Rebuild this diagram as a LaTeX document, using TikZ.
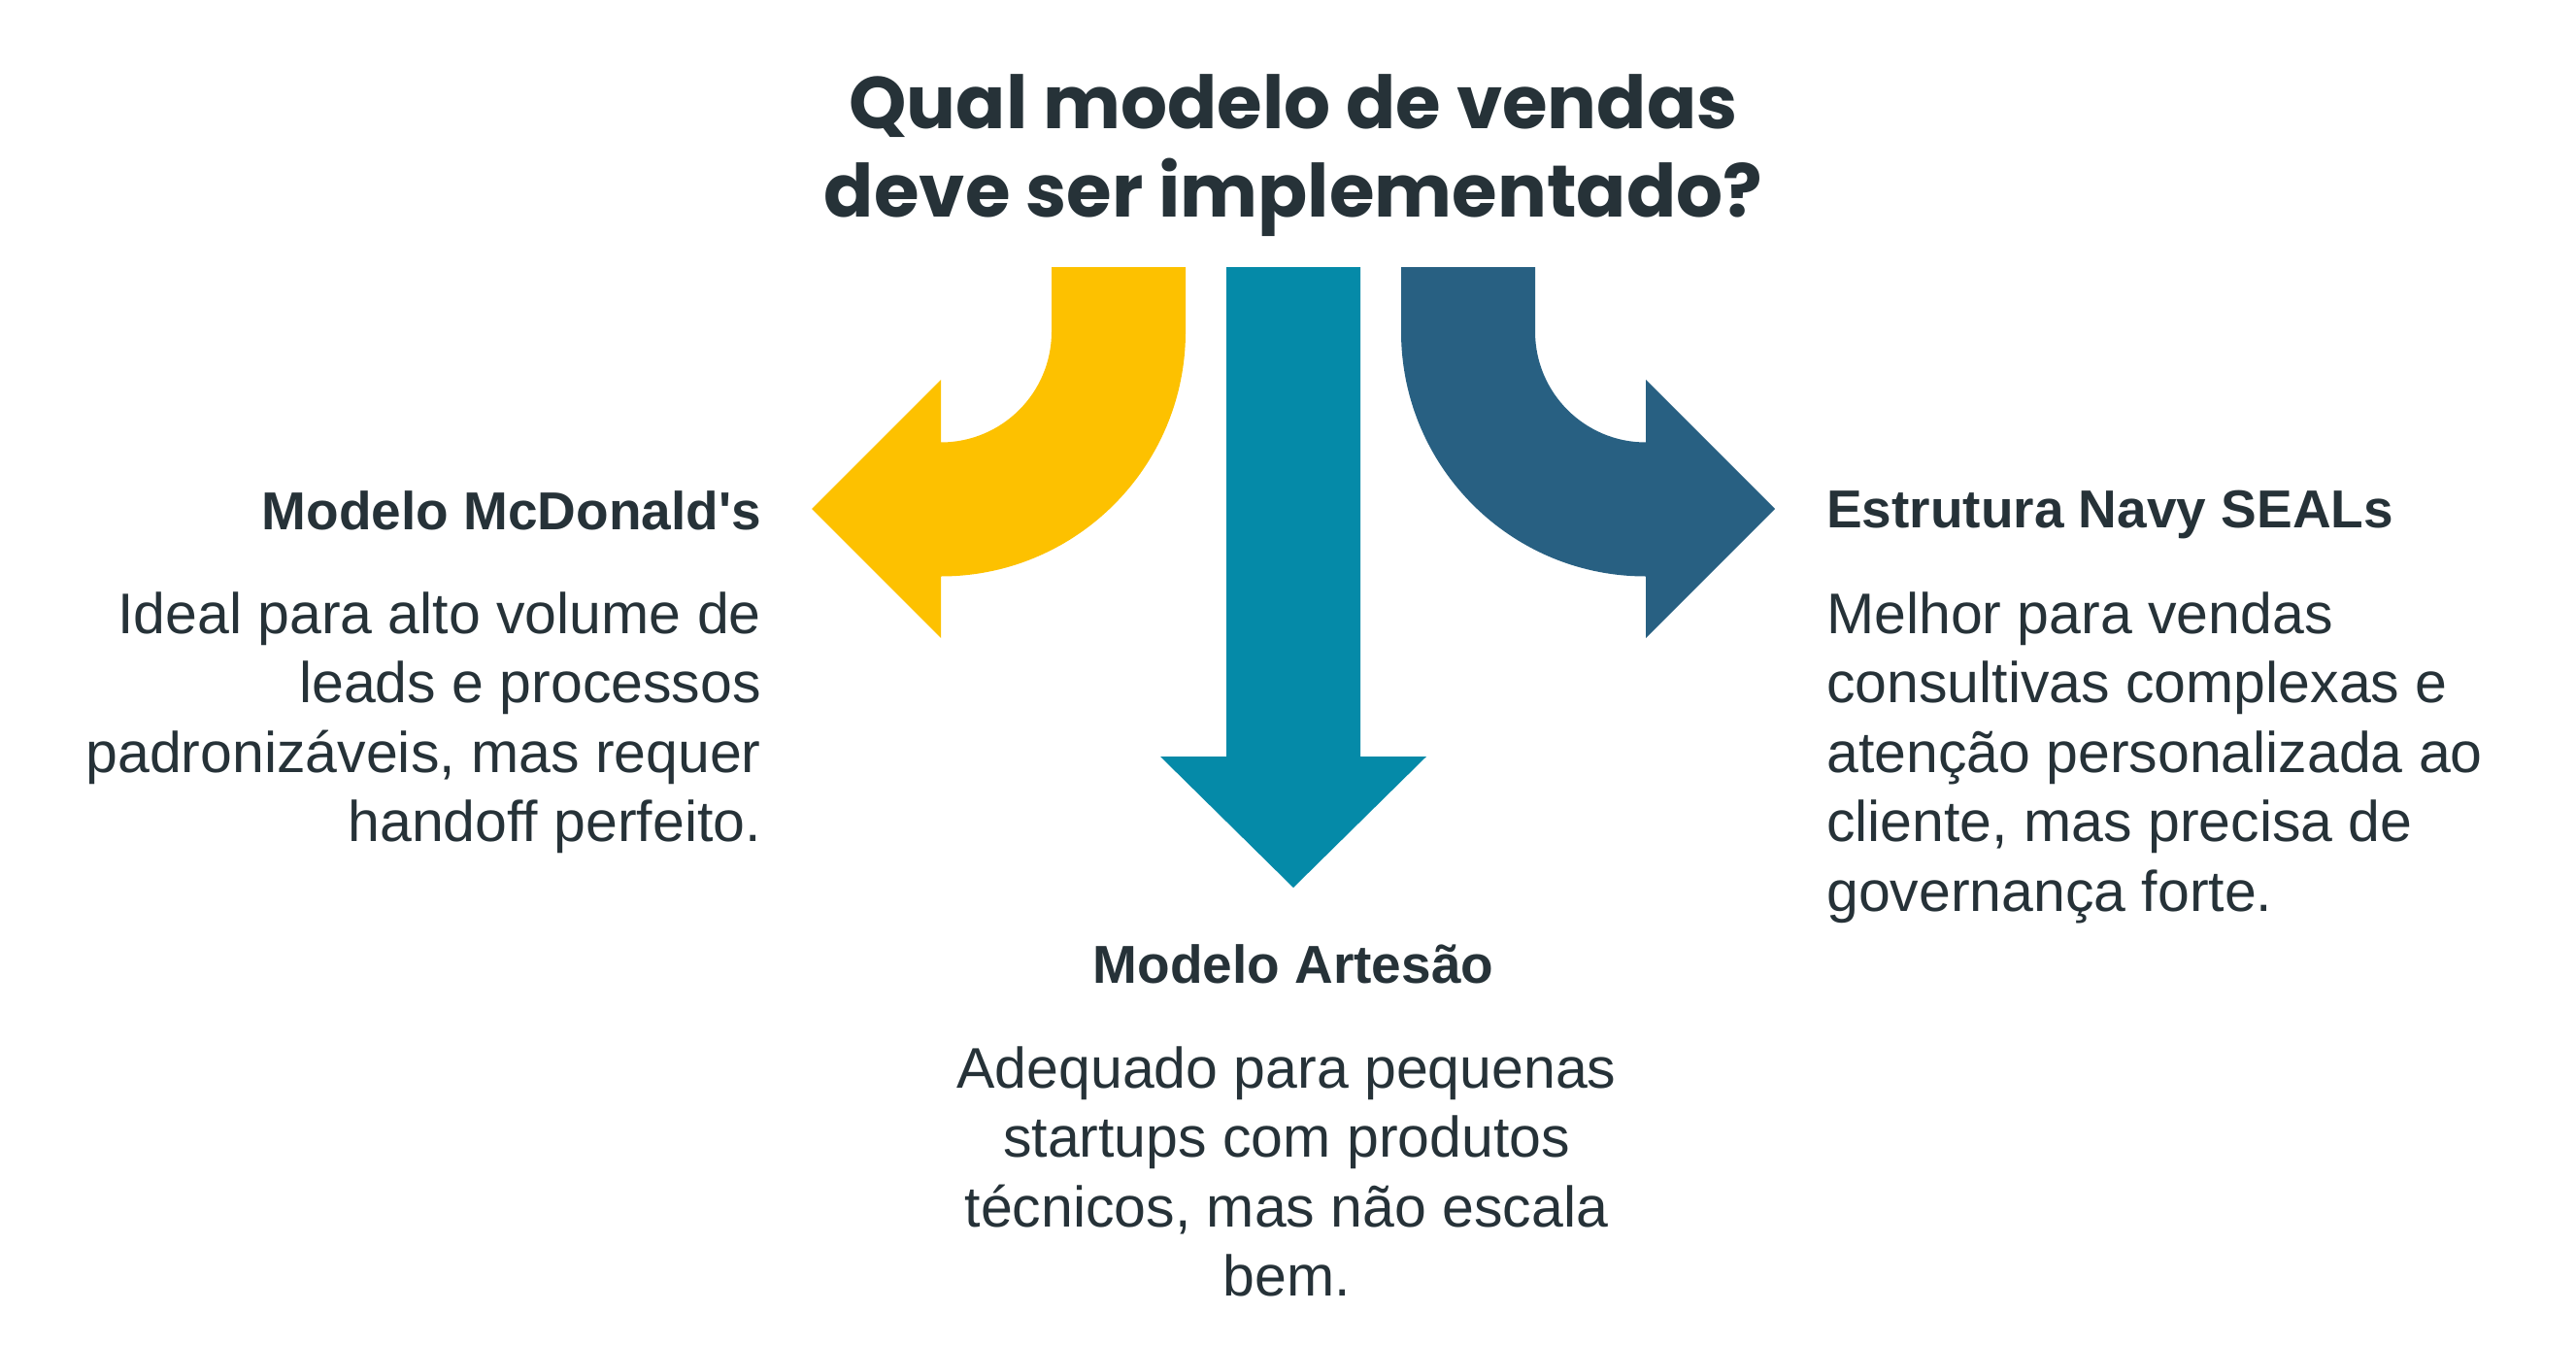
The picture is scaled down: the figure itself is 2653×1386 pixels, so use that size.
\documentclass[tikz,border=0pt]{standalone}
\usepackage{fontspec}
\setmainfont{Liberation Sans}
\newfontfamily\titlefont{Poppins}
\definecolor{ink}{HTML}{263238}
\definecolor{mcdyellow}{HTML}{FDC100}
\definecolor{artteal}{HTML}{058AA8}
\definecolor{sealnavy}{HTML}{286082}
\tikzset{
  heading/.style={font=\fontsize{55}{66}\selectfont\bfseries, text=ink, inner sep=0pt},
  body/.style={font=\fontsize{59}{71.5}\selectfont, text=ink, inner sep=0pt},
}
\begin{document}
\begin{tikzpicture}[x=1pt,y=-1pt]
    \useasboundingbox (0,0) rectangle (2653,1386);
    % title (base = last line)
    \node[font=\titlefont\bfseries\fontsize{75.5}{91}\selectfont, text=ink, inner sep=0pt, align=center, anchor=base] (title) at (1332,223) {Qual modelo de vendas\\deve ser implementado?};
    % arrows
    \fill[mcdyellow] (1083,275) -- (1221,275) -- (1221,341.5) arc[start angle=0, end angle=90, radius=252] -- (969,657) -- (836,524) -- (969,391) -- (969,455.5) arc[start angle=90, end angle=0, radius=114] -- cycle;
    \fill[artteal] (1263,275) -- (1401,275) -- (1401,779) -- (1469,779) -- (1332,914) -- (1195,779) -- (1263,779) -- cycle;
    \fill[sealnavy] (1581,275) -- (1443,275) -- (1443,341.5) arc[start angle=180, end angle=90, radius=252] -- (1695,657) -- (1828,524) -- (1695,391) -- (1695,455.5) arc[start angle=90, end angle=180, radius=114] -- cycle;
    % left
    \node[heading, anchor=base east] (mcd) at (784,545) {Modelo McDonald\textquotesingle s};
    \node[body, align=right, anchor=base east] (mcdtext) at (784,866.5) {Ideal para alto volume de\\leads e processos\\padronizáveis, mas requer\\handoff perfeito.};
    % bottom
    \node[heading, anchor=base] (artesao) at (1332,1012) {Modelo Artesão};
    \node[body, align=center, anchor=base] (artesaotext) at (1325,1334.5) {Adequado para pequenas\\startups com produtos\\técnicos, mas não escala\\bem.};
    % right
    \node[heading, anchor=base west] (seals) at (1881,543) {Estrutura Navy SEALs};
    \node[body, align=left, anchor=base west] (sealstext) at (1881,938) {Melhor para vendas\\consultivas complexas e\\atenção personalizada ao\\cliente, mas precisa de\\governança forte.};
\end{tikzpicture}
\end{document}
